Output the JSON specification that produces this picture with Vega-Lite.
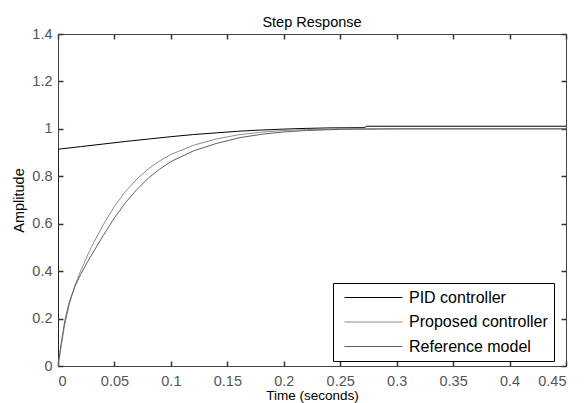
{
  "$schema": "https://vega.github.io/schema/vega-lite/v6.json",
  "width": 508,
  "height": 332,
  "autosize": {"type": "none"},
  "padding": {"left": 58, "top": 34, "right": 18, "bottom": 37},
  "background": "white",
  "title": {"text": "Step Response", "fontSize": 14.5, "font": "Liberation Sans", "fontWeight": "normal", "color": "black", "offset": -4},
  "config": {
    "view": {"stroke": "#444", "strokeWidth": 1},
    "font": "Liberation Sans",
    "axis": {
      "grid": false, "domain": false,
      "labelColor": "#555", "labelFontSize": 14.5, "labelFont": "Liberation Sans",
      "titleFontSize": 14.5, "titleFontWeight": "normal", "titleColor": "black", "titleFont": "Liberation Sans"
    }
  },
  "datasets": {
    "resp": [
      {"t": 0, "amplitude": 0, "series": "PID controller"},
      {"t": 0, "amplitude": 0.914, "series": "PID controller"},
      {"t": 0.02, "amplitude": 0.925, "series": "PID controller"},
      {"t": 0.04, "amplitude": 0.936, "series": "PID controller"},
      {"t": 0.06, "amplitude": 0.947, "series": "PID controller"},
      {"t": 0.08, "amplitude": 0.957, "series": "PID controller"},
      {"t": 0.1, "amplitude": 0.967, "series": "PID controller"},
      {"t": 0.12, "amplitude": 0.976, "series": "PID controller"},
      {"t": 0.14, "amplitude": 0.983, "series": "PID controller"},
      {"t": 0.16, "amplitude": 0.99, "series": "PID controller"},
      {"t": 0.18, "amplitude": 0.995, "series": "PID controller"},
      {"t": 0.2, "amplitude": 0.999, "series": "PID controller"},
      {"t": 0.22, "amplitude": 1.002, "series": "PID controller"},
      {"t": 0.24, "amplitude": 1.004, "series": "PID controller"},
      {"t": 0.272, "amplitude": 1.005, "series": "PID controller"},
      {"t": 0.273, "amplitude": 1.011, "series": "PID controller"},
      {"t": 0.35, "amplitude": 1.011, "series": "PID controller"},
      {"t": 0.45, "amplitude": 1.011, "series": "PID controller"},
      {"t": 0, "amplitude": 0, "series": "Proposed controller"},
      {"t": 0.003, "amplitude": 0.09, "series": "Proposed controller"},
      {"t": 0.006, "amplitude": 0.175, "series": "Proposed controller"},
      {"t": 0.01, "amplitude": 0.26, "series": "Proposed controller"},
      {"t": 0.015, "amplitude": 0.34, "series": "Proposed controller"},
      {"t": 0.02, "amplitude": 0.4, "series": "Proposed controller"},
      {"t": 0.025, "amplitude": 0.455, "series": "Proposed controller"},
      {"t": 0.03, "amplitude": 0.505, "series": "Proposed controller"},
      {"t": 0.04, "amplitude": 0.595, "series": "Proposed controller"},
      {"t": 0.05, "amplitude": 0.673, "series": "Proposed controller"},
      {"t": 0.06, "amplitude": 0.737, "series": "Proposed controller"},
      {"t": 0.07, "amplitude": 0.789, "series": "Proposed controller"},
      {"t": 0.08, "amplitude": 0.831, "series": "Proposed controller"},
      {"t": 0.09, "amplitude": 0.865, "series": "Proposed controller"},
      {"t": 0.1, "amplitude": 0.892, "series": "Proposed controller"},
      {"t": 0.12, "amplitude": 0.931, "series": "Proposed controller"},
      {"t": 0.14, "amplitude": 0.957, "series": "Proposed controller"},
      {"t": 0.16, "amplitude": 0.975, "series": "Proposed controller"},
      {"t": 0.18, "amplitude": 0.986, "series": "Proposed controller"},
      {"t": 0.2, "amplitude": 0.993, "series": "Proposed controller"},
      {"t": 0.22, "amplitude": 0.997, "series": "Proposed controller"},
      {"t": 0.25, "amplitude": 1.0, "series": "Proposed controller"},
      {"t": 0.45, "amplitude": 1.0, "series": "Proposed controller"},
      {"t": 0, "amplitude": 0, "series": "Reference model"},
      {"t": 0.003, "amplitude": 0.1, "series": "Reference model"},
      {"t": 0.006, "amplitude": 0.19, "series": "Reference model"},
      {"t": 0.01, "amplitude": 0.27, "series": "Reference model"},
      {"t": 0.015, "amplitude": 0.335, "series": "Reference model"},
      {"t": 0.02, "amplitude": 0.385, "series": "Reference model"},
      {"t": 0.025, "amplitude": 0.43, "series": "Reference model"},
      {"t": 0.03, "amplitude": 0.47, "series": "Reference model"},
      {"t": 0.04, "amplitude": 0.55, "series": "Reference model"},
      {"t": 0.05, "amplitude": 0.625, "series": "Reference model"},
      {"t": 0.06, "amplitude": 0.69, "series": "Reference model"},
      {"t": 0.07, "amplitude": 0.745, "series": "Reference model"},
      {"t": 0.08, "amplitude": 0.792, "series": "Reference model"},
      {"t": 0.09, "amplitude": 0.83, "series": "Reference model"},
      {"t": 0.1, "amplitude": 0.862, "series": "Reference model"},
      {"t": 0.12, "amplitude": 0.907, "series": "Reference model"},
      {"t": 0.14, "amplitude": 0.938, "series": "Reference model"},
      {"t": 0.16, "amplitude": 0.962, "series": "Reference model"},
      {"t": 0.18, "amplitude": 0.977, "series": "Reference model"},
      {"t": 0.2, "amplitude": 0.987, "series": "Reference model"},
      {"t": 0.22, "amplitude": 0.993, "series": "Reference model"},
      {"t": 0.25, "amplitude": 0.998, "series": "Reference model"},
      {"t": 0.3, "amplitude": 1.0, "series": "Reference model"},
      {"t": 0.45, "amplitude": 1.0, "series": "Reference model"}
    ]
  },
  "layer": [
    {
      "data": {"name": "resp"},
      "transform": [{"filter": "datum.series === 'PID controller'"}],
      "mark": {"type": "line", "strokeWidth": 1, "clip": true},
      "encoding": {
        "x": {
          "field": "t", "type": "quantitative",
          "scale": {"domain": [0, 0.45], "nice": false, "zero": false},
          "axis": {"orient": "bottom", "values": [0, 0.05, 0.1, 0.15, 0.2, 0.25, 0.3, 0.35, 0.4, 0.45], "format": "~g", "title": "Time (seconds)", "ticks": false, "tickSize": 0, "labelPadding": 8, "titleY": 33, "titleBaseline": "alphabetic", "titleFontSize": 13.5}
        },
        "y": {
          "field": "amplitude", "type": "quantitative",
          "scale": {"domain": [0, 1.4], "nice": false},
          "axis": {"orient": "left", "values": [0, 0.2, 0.4, 0.6, 0.8, 1, 1.2, 1.4], "format": "~g", "title": "Amplitude", "ticks": false, "tickSize": 0, "labelPadding": 6, "titlePadding": 5}
        },
        "color": {
          "field": "series", "type": "nominal",
          "scale": {"domain": ["PID controller", "Proposed controller", "Reference model"], "range": ["#000000", "#8c8c8c", "#5f5f5f"]},
          "legend": {
            "title": null, "orient": "none", "legendX": 275, "legendY": 249, "direction": "vertical",
            "symbolType": "M-0.375,0H6.875", "symbolSize": 256, "symbolStrokeWidth": 1,
            "labelFontSize": 16, "labelColor": "black", "labelFont": "Liberation Sans", "labelOffset": 53, "labelLimit": 300,
            "strokeColor": "black", "fillColor": "white", "padding": 6, "rowPadding": 7.5
          }
        }
      }
    },
    {
      "data": {"name": "resp"},
      "transform": [{"filter": "datum.series !== 'PID controller'"}],
      "mark": {"type": "line", "strokeWidth": 1, "clip": true},
      "encoding": {
        "x": {
          "field": "t", "type": "quantitative",
          "axis": {"orient": "top", "offset": -332, "values": [0, 0.05, 0.1, 0.15, 0.2, 0.25, 0.3, 0.35, 0.4, 0.45], "labels": false, "title": null, "ticks": true, "tickColor": "#333", "tickWidth": 1.5, "tickSize": 5}
        },
        "y": {
          "field": "amplitude", "type": "quantitative",
          "axis": {"orient": "right", "offset": -508, "values": [0, 0.2, 0.4, 0.6, 0.8, 1, 1.2, 1.4], "labels": false, "title": null, "ticks": true, "tickColor": "#333", "tickWidth": 1.5, "tickSize": 5}
        },
        "color": {"field": "series", "type": "nominal"}
      }
    },
    {
      "mark": {"type": "rule", "color": "black", "strokeWidth": 1},
      "encoding": {
        "x": {"datum": 0, "type": "quantitative", "axis": {"orient": "bottom", "offset": -332, "values": [0, 0.05, 0.1, 0.15, 0.2, 0.25, 0.3, 0.35, 0.4, 0.45], "labels": false, "title": null, "ticks": true, "tickColor": "#333", "tickWidth": 1.5, "tickSize": 5}},
        "x2": {"datum": 0.45},
        "y": {"datum": 1, "type": "quantitative", "axis": {"orient": "left", "offset": -508, "values": [0, 0.2, 0.4, 0.6, 0.8, 1, 1.2, 1.4], "labels": false, "title": null, "ticks": true, "tickColor": "#333", "tickWidth": 1.5, "tickSize": 5}}
      }
    }
  ],
  "resolve": {"axis": {"x": "independent", "y": "independent"}}
}
